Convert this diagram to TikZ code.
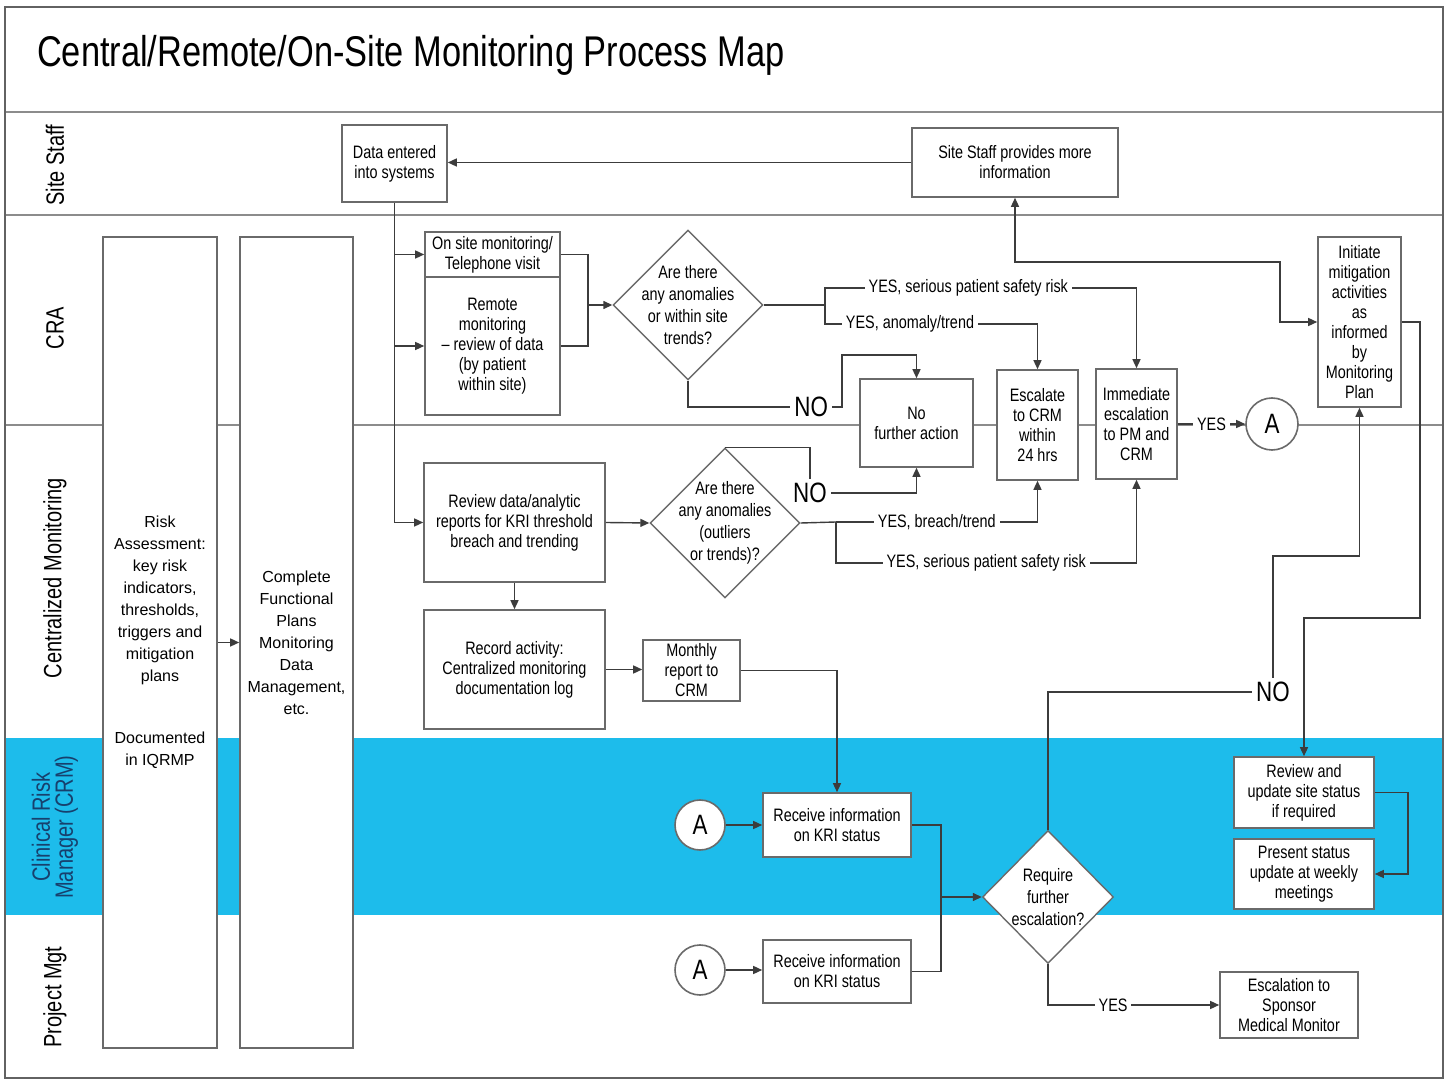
\documentclass[tikz,border=0pt]{standalone}
\usepackage{fontspec}
\setmainfont{Liberation Sans}[FakeStretch=0.8]
\newfontfamily\plainsans{Liberation Sans}
\usepackage{xcolor}
\usetikzlibrary{shapes.geometric,arrows.meta}
\definecolor{crmblue}{HTML}{1DBCEB}
\definecolor{crmtext}{HTML}{17406D}
\definecolor{boxline}{HTML}{6A6A6A}
\definecolor{wire}{HTML}{3C3C3C}
\definecolor{rule}{HTML}{8C8C8C}

\tikzset{
  box/.style={draw=boxline, line width=0.8pt, fill=white, align=center, inner sep=1pt,
    font=\fontsize{9}{10}\selectfont},
  tallbox/.style={draw=boxline, line width=0.8pt, fill=white, align=center, inner sep=1pt,
    minimum width=57pt, minimum height=405.5pt, font=\plainsans\fontsize{8}{11}\selectfont},
  dia/.style={draw=boxline, line width=0.7pt, fill=white, shape=diamond, aspect=1, inner sep=0pt},
  diatext/.style={align=center, inner sep=0pt, font=\fontsize{9}{11}\selectfont},
  conn/.style={draw=wire, line width=0.7pt},
  arr/.style={conn, -{Triangle[length=4.5pt,width=4pt]}},
  lbl/.style={fill=white, inner sep=2pt, font=\fontsize{9}{10}\selectfont},
  bign/.style={fill=white, inner sep=2pt, font=\fontsize{14}{14}\selectfont},
  offpage/.style={draw=boxline, line width=0.8pt, fill=white, circle, inner sep=0pt,
    font=\fontsize{14}{14}\selectfont},
  lanename/.style={rotate=90, align=center, font=\fontsize{12.5}{12.5}\selectfont},
}

\begin{document}
\begin{tikzpicture}[x=0.5pt, y=-0.5pt]
  \useasboundingbox (0,0) rectangle (1447,1080);

  % swim lanes
  \fill[crmblue] (5,738) rectangle (1443,915);
  \draw[rule, line width=0.8pt] (5,112) -- (1443,112) (5,215) -- (1443,215) (5,425) -- (1443,425);
  \draw[rule!70!black, line width=1pt] (5,7) rectangle (1443,1078);
  \node[anchor=west, font=\fontsize{21.5}{21.5}\selectfont] (title) at (30,55) {Central/Remote/On-Site Monitoring Process Map};
  \node[lanename] (laneSite) at (55,165) {Site Staff};
  \node[lanename] (laneCra) at (55,328) {CRA};
  \node[lanename] (laneCm) at (55,578) {Centralized Monitoring};
  \node[lanename, text=crmtext, font=\fontsize{12.5}{11.5}\selectfont] (laneCrm) at (55,827) {Clinical Risk\\Manager (CRM)};
  \node[lanename] (lanePm) at (55,997) {Project Mgt};

  % planning columns
  \node[tallbox] (risk) at (160,642.5) {Risk\\Assessment:\\key risk\\indicators,\\thresholds,\\triggers and\\mitigation\\plans\\[20pt]Documented\\in IQRMP};
  \node[tallbox, minimum width=56.5pt] (plans) at (296.5,642.5) {Complete\\Functional\\Plans\\Monitoring\\Data\\Management,\\etc.};

  % site staff
  \node[box, minimum width=52.5pt, minimum height=38.5pt] (data) at (394.5,163.5) {Data entered\\into systems};
  \node[box, minimum width=103pt, minimum height=34.5pt] (staff) at (1015,162.5) {Site Staff provides more\\information};

  % CRA
  \node[box, minimum width=67.5pt, minimum height=22.5pt] (onsite) at (492.5,254.5) {On site monitoring/\\Telephone visit};
  \node[box, minimum width=67.5pt, minimum height=69pt] (remote) at (492.5,346) {Remote\\monitoring\\-- review of data\\(by patient\\within site)};
  \node[dia, minimum size=75pt] (d1) at (688,305) {};
  \node[diatext] (d1t) at (d1.center) {Are there\\any anomalies\\or within site\\trends?};
  \node[box, minimum width=56.5pt, minimum height=44pt] (nofurther) at (916.5,423) {No\\further action};
  \node[box, minimum width=40.5pt, minimum height=55pt] (esc24) at (1037.5,425) {Escalate\\to CRM\\within\\24 hrs};
  \node[box, minimum width=40.5pt, minimum height=55pt] (immed) at (1136.5,424) {Immediate\\escalation\\to PM and\\CRM};
  \node[offpage, minimum size=26pt] (aCra) at (1272,424) {A};
  \node[box, minimum width=41.5pt, minimum height=85pt] (initiate) at (1359.5,322) {Initiate\\mitigation\\activities\\as\\informed\\by\\Monitoring\\Plan};

  % centralized monitoring
  \node[box, minimum width=90.5pt, minimum height=59.5pt] (review) at (514.5,522.5) {Review data/analytic\\reports for KRI threshold\\breach and trending};
  \node[dia, minimum size=75pt] (d2) at (725,523) {};
  \node[diatext] (d2t) at (d2.center) {Are there\\any anomalies\\(outliers\\or trends)?};
  \node[box, minimum width=90.5pt, minimum height=59.5pt] (record) at (514.5,669.5) {Record activity:\\Centralized monitoring\\documentation log};
  \node[box, minimum width=48.5pt, minimum height=30.5pt] (monthly) at (691.5,670.5) {Monthly\\report to\\CRM};

  % CRM
  \node[offpage, minimum size=25pt] (aCrm) at (700,825) {A};
  \node[box, minimum width=74pt, minimum height=32pt] (rcvCrm) at (837,825) {Receive information\\on KRI status};
  \node[dia, minimum width=65.5pt, minimum height=66.5pt] (d3) at (1048,897) {};
  \node[diatext] (d3t) at (d3.center) {Require\\further\\escalation?};
  \node[box, minimum width=70pt, minimum height=35.5pt] (reviewUpd) at (1304,792.5) {Review and\\update site status\\if required};
  \node[box, minimum width=70pt, minimum height=35pt] (present) at (1304,874) {Present status\\update at weekly\\meetings};

  % project management
  \node[offpage, minimum size=25pt] (aPm) at (700,970) {A};
  \node[box, minimum width=74pt, minimum height=31.5pt] (rcvPm) at (837,971.5) {Receive information\\on KRI status};
  \node[box, minimum width=69pt, minimum height=33pt] (sponsor) at (1289,1005) {Escalation to\\Sponsor\\Medical Monitor};

  % bends
  \coordinate (j1) at (588,305);
  \coordinate (y1) at (825,305);
  \coordinate (ya) at (825,288);
  \coordinate (yb) at (825,324);
  \coordinate (n1) at (842,407);
  \coordinate (n2) at (842,355);
  \coordinate (y2) at (836,522);
  \coordinate (yc) at (836,563);
  \coordinate (s1) at (1280,262);
  \coordinate (i1) at (1420,618);
  \coordinate (q1) at (1273,556);
  \coordinate (j3) at (941,897);
  \coordinate (r1) at (1408,830);

  % flow
  \draw[arr] (risk.east) -- (risk.east -| plans.west);
  \draw[arr] (staff.west) -- (staff.west -| data.east);
  \draw[arr] (data.south) |- (review.west);
  \draw[arr] (data.south |- onsite.west) -- (onsite.west);
  \draw[arr] (data.south |- remote.west) -- (remote.west);
  \draw[conn] (onsite.east) -| (j1);
  \draw[conn] (remote.east) -| (j1);
  \draw[arr] (j1) -- (d1.west);
  \draw[conn] (d1.east) -- (y1);
  \draw[arr] (y1) |- node[lbl, pos=0.73] {YES, serious patient safety risk} (ya -| immed.north) -- (immed.north);
  \draw[arr] (y1) |- node[lbl, pos=0.7] {YES, anomaly/trend} (yb -| esc24.north) -- (esc24.north);
  \draw[arr] (d1.south) |- node[bign, pos=0.9] {NO} (n1) |- (n2 -| nofurther.north) -- (nofurther.north);

  \draw[arr] (review.east) -- (d2.west);
  \node[bign] (no2) at (810,493) {NO};
  \draw[conn] (d2.north) -| (no2.north);
  \draw[arr] (no2.east) -| (nofurther.south);
  \draw[conn] (d2.east) -- (y2);
  \draw[arr] (y2) -| node[lbl, pos=0.25] {YES, breach/trend} (esc24.south);
  \draw[arr] (y2) |- node[lbl, pos=0.75] {YES, serious patient safety risk} (yc -| immed.south) -- (immed.south);
  \draw[arr] (review.south) -- (record.north);
  \draw[arr] (record.east) -- (record.east -| monthly.west);
  \draw[arr] (monthly.east) -| (rcvCrm.north);

  \draw[arr] (immed.east) -- node[lbl] {YES} (aCra.west);
  \draw[conn, {Triangle[length=4.5pt,width=4pt]}-{Triangle[length=4.5pt,width=4pt]}] (staff.south) |- (s1) |- (initiate.west);
  \draw[arr] (initiate.east) -| (i1) -| (reviewUpd.north);

  \draw[arr] (aCrm.east) -- (aCrm.east -| rcvCrm.west);
  \draw[arr] (aPm.east) -- (aPm.east -| rcvPm.west);
  \draw[conn] (rcvCrm.east) -| (j3);
  \draw[conn] (rcvPm.east) -| (j3);
  \draw[arr] (j3) -- (d3.west);
  \node[bign] (no3) at (1273,692) {NO};
  \draw[conn] (d3.north) |- (no3.west);
  \draw[arr] (no3.north) -- (q1) -| (initiate.south);
  \draw[arr] (d3.south) |- node[lbl, pos=0.69] {YES} (sponsor.west);
  \draw[arr] (reviewUpd.east) -| (r1) |- (present.east);
\end{tikzpicture}
\end{document}
